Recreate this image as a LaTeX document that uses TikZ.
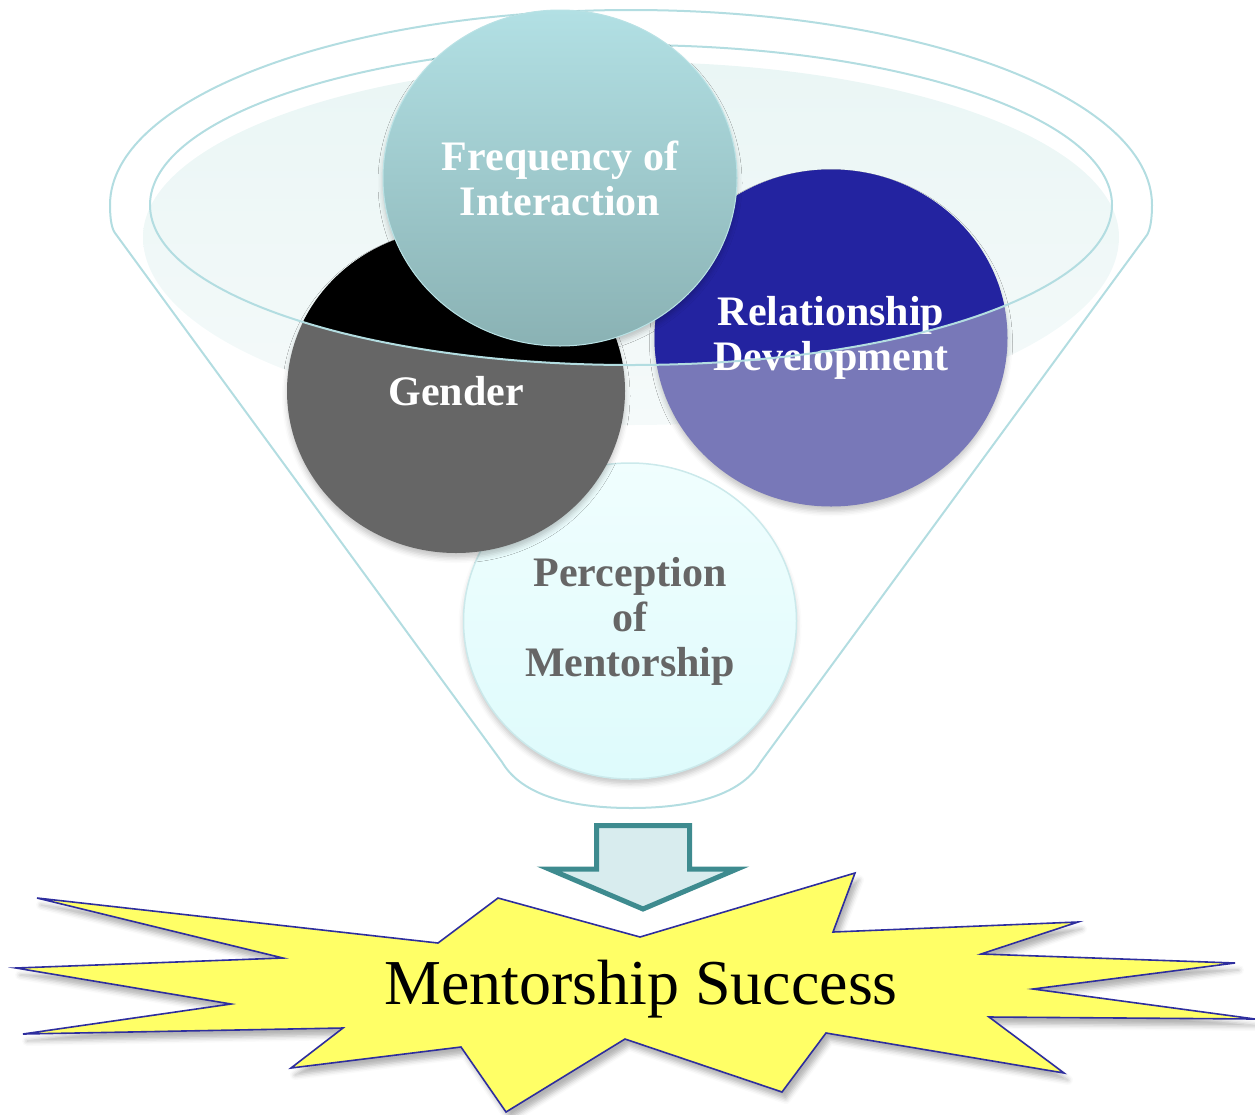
\documentclass[tikz,border=0pt]{standalone}
\usepackage{fontspec}
\setmainfont{Liberation Serif}
\usetikzlibrary{shapes.geometric,shadows.blur}

\definecolor{funline}{HTML}{B3DDE1}
\definecolor{funfillA}{HTML}{EAF6F5}
\definecolor{funfillB}{HTML}{F5FAFA}
\definecolor{freqtop}{HTML}{B2E0E4}
\definecolor{freqbot}{HTML}{8AB2B4}
\definecolor{freqline}{HTML}{B9E2E5}
\definecolor{gendark}{HTML}{000000}
\definecolor{genlight}{HTML}{666666}
\definecolor{reldark}{HTML}{2323A0}
\definecolor{rellight}{HTML}{7878B8}
\definecolor{pertop}{HTML}{F0FEFE}
\definecolor{perbot}{HTML}{DEFBFC}
\definecolor{perline}{HTML}{CBE9EB}
\definecolor{pertext}{HTML}{666666}
\definecolor{arrline}{HTML}{3E8B8F}
\definecolor{arrfill}{HTML}{D8ECEE}
\definecolor{staryellow}{HTML}{FFFF66}
\definecolor{starline}{HTML}{2E2E9E}

\begin{document}
\begin{tikzpicture}[x=1pt,y=1pt,
  funnel line/.style={draw=funline, line width=2pt},
  bubble/.style 2 args={ellipse, minimum width=#1, minimum height=#2,
    inner sep=0pt, align=center, text=white,
    font=\fontsize{42}{45}\selectfont\bfseries,
    blur shadow={shadow xshift=0pt, shadow yshift=-5pt,
      shadow blur radius=5pt, shadow opacity=22}},
  rimfill/.style={path picture={\fill[#1] (rim) ellipse [x radius=481pt, y radius=160pt];}},
  burst/.style={fill=staryellow, draw=starline, line width=1.6pt, line join=miter,
    blur shadow={shadow xshift=4pt, shadow yshift=-7pt,
      shadow blur radius=5pt, shadow opacity=30}},
  blockarrow/.style={fill=arrfill, draw=arrline, line width=5pt, line join=miter}
]
\useasboundingbox (0,0) rectangle (1255,-1114);

% funnel rim centre
\coordinate (rim) at (631,-205);

% outer funnel body
\draw[funnel line] (110,-205) arc[start angle=180, end angle=0, x radius=521, y radius=195]
  .. controls (1152,-220) and (1150,-230) .. (1147,-235)
  -- (760,-763)
  .. controls (740,-796) and (690,-808) .. (631,-808)
  .. controls (572,-808) and (522,-796) .. (502,-762)
  -- (115,-233)
  .. controls (112,-229) and (110,-220) .. cycle;

% soft interior of the funnel mouth
\shade[top color=funfillA, bottom color=funfillB]
  (143,-237) arc[start angle=180, end angle=0, x radius=488, y radius=175]
  arc[start angle=0, end angle=-180, x radius=488, y radius=188] -- cycle;

% factor circles
\node[bubble={333pt}{316pt}, top color=pertop, bottom color=perbot, draw=perline,
  line width=1.5pt, text=pertext] (perc) at (630,-621) {Perception\\of\\Mentorship};
\node[bubble={338pt}{324pt}, fill=genlight, rimfill=gendark] (gend) at (456,-391) {Gender};
\node[bubble={353pt}{337pt}, fill=rellight, rimfill=reldark] (rel) at (831,-338)
  {Relationship\\Development};

% inner rim of the funnel
\draw[funnel line] (rim) ellipse [x radius=481, y radius=160];

\node[bubble={354pt}{336pt}, top color=freqtop, bottom color=freqbot, draw=freqline,
  line width=1pt] (freq) at (560,-178) {Frequency of\\Interaction};

% arrow into the outcome
\draw[blockarrow] (596.5,-825.5) -- (689.5,-825.5) -- (689.5,-869) -- (737,-869)
  -- (643,-909) -- (549,-869) -- (596.5,-869) -- cycle;

% outcome burst
\draw[burst] (37,-898) -- (438,-943) -- (498,-898) -- (640,-937) -- (855,-873)
  -- (833,-932) -- (1078,-922) -- (981,-954) -- (1235,-963) -- (1033,-989)
  -- (1255,-1019) -- (989,-1017) -- (1064,-1073) -- (826,-1033) -- (782,-1092)
  -- (625,-1039) -- (506,-1112) -- (461,-1047) -- (291,-1068) -- (343,-1028)
  -- (23,-1034) -- (231,-1004) -- (16,-968) -- (283,-958) -- cycle;
\node[font=\fontsize{64}{70}\selectfont, text=black, inner sep=0pt] (success)
  at (641,-989) {Mentorship Success};
\end{tikzpicture}
\end{document}
